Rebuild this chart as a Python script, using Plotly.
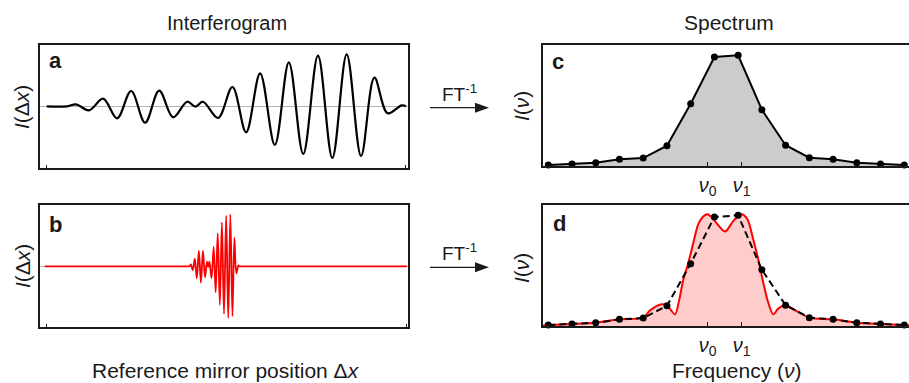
import plotly.graph_objects as go

W, H = 909, 383
INK = "#1a1a1a"
FONT = "Liberation Sans, Arial, sans-serif"

# Interferogram: peaks and troughs along the normalised mirror position
IFG_X = [0.000, 0.056, 0.082, 0.118, 0.157, 0.196, 0.235, 0.274, 0.313, 0.352,
         0.391, 0.414, 0.435, 0.477, 0.517, 0.555, 0.594, 0.635, 0.674, 0.714,
         0.755, 0.795, 0.835, 0.875, 0.912, 0.949, 0.988, 1.000]
IFG_Y = [0.000, 0.000, 0.038, -0.077, 0.146, -0.231, 0.294, -0.315, 0.300, -0.212,
         0.088, -0.008, 0.088, -0.225, 0.371, -0.500, 0.635, -0.744, 0.846, -0.917,
         0.973, -0.994, 1.000, -0.956, 0.550, -0.135, 0.019, 0.000]

# Flat baseline extent of the broadband interferogram (same units as IFG_X)
B_BASELINE_X = [-2.70, 1.05, 4.20]

# Sampled spectrum (frequency bins 0..15)
NU = list(range(16))
SPEC = [0.009, 0.018, 0.030, 0.060, 0.072, 0.183, 0.563, 0.985, 1.000, 0.508,
        0.188, 0.075, 0.060, 0.030, 0.018, 0.009]

# High-resolution spectrum
FIT_NU = [-0.23, 0.0, 1.0, 2.0, 3.0, 4.0, 4.28, 4.56, 4.78, 5.0, 5.34, 5.52, 5.69,
          5.90, 6.11, 6.32, 6.53, 6.72, 6.98, 7.45, 7.80, 8.15, 8.39, 8.64, 8.85,
          9.06, 9.27, 9.48, 9.69, 9.99, 10.5, 11.0, 12.0, 13.0, 14.0, 15.0, 15.2]
FIT_I = [0.005, 0.009, 0.018, 0.030, 0.060, 0.075, 0.140, 0.180, 0.196, 0.187, 0.105,
         0.240, 0.420, 0.570, 0.750, 0.920, 0.990, 1.009, 0.958, 0.853, 0.950, 1.009,
         0.964, 0.780, 0.600, 0.390, 0.210, 0.105, 0.157, 0.187, 0.130, 0.075, 0.060,
         0.030, 0.018, 0.009, 0.006]

NU_TICKS = [6.72, 8.15]
NU_LABELS = ["<i>ν</i><sub>0</sub>", "<i>ν</i><sub>1</sub>"]


def fx(x):
    return x / W


def fy(y):
    return 1 - y / H


fig = go.Figure()

fig.add_trace(go.Scatter(x=IFG_X, y=IFG_Y, mode="lines", xaxis="x", yaxis="y",
                         line=dict(color="black", width=2.2, shape="spline", smoothing=1.0)))
fig.add_trace(go.Scatter(x=[B_BASELINE_X[0]] + IFG_X + B_BASELINE_X[1:],
                         y=[0] + IFG_Y + [0, 0], mode="lines", xaxis="x2", yaxis="y2",
                         line=dict(color="red", width=1.8, shape="spline", smoothing=1.0)))
fig.add_trace(go.Scatter(x=NU, y=SPEC, mode="lines+markers", xaxis="x3", yaxis="y3",
                         fill="tozeroy", fillcolor="rgb(204,204,204)", cliponaxis=False,
                         line=dict(color="black", width=2),
                         marker=dict(color="black", size=7)))
fig.add_trace(go.Scatter(x=FIT_NU, y=FIT_I, mode="lines", xaxis="x4", yaxis="y4",
                         fill="tozeroy", fillcolor="rgb(255,204,204)",
                         line=dict(color="red", width=2, shape="spline", smoothing=0.8)))
fig.add_trace(go.Scatter(x=NU, y=SPEC, mode="lines+markers", xaxis="x4", yaxis="y4",
                         cliponaxis=False,
                         line=dict(color="black", width=2, dash="7px,4px"),
                         marker=dict(color="black", size=7)))

frame = dict(showline=True, linewidth=2, linecolor=INK, mirror=True, showgrid=False,
             zeroline=False, showticklabels=False, ticks="")
xbase = dict(frame, ticks="inside", ticklen=3, tickwidth=1, tickcolor=INK)
nu_axis = dict(xbase, range=[-0.223, 15.2], tickvals=NU_TICKS, ticktext=NU_LABELS,
               showticklabels=True, ticklen=4,
               tickfont=dict(size=20, family=FONT, color=INK))

left_x = [fx(40), fx(408)]
right_x = [fx(543), 1.0]

fig.update_layout(
    width=W, height=H, margin=dict(l=0, r=0, t=0, b=0),
    paper_bgcolor="white", plot_bgcolor="white", showlegend=False,
    font=dict(family=FONT, color=INK),
    xaxis=dict(xbase, domain=left_x, anchor="y", range=[-0.0186, 1.0056], tickvals=[0, 1]),
    yaxis=dict(frame, domain=[fy(168), fy(45)], anchor="x", range=[-1.187, 1.179],
               zeroline=True, zerolinecolor="#b4b4b4", zerolinewidth=1),
    xaxis2=dict(xbase, domain=left_x, anchor="y2", range=[-2.792, 4.220],
                tickvals=[-2.665, 4.185]),
    yaxis2=dict(frame, domain=[fy(327), fy(205)], anchor="x2", range=[-1.167, 1.179],
                zeroline=True, zerolinecolor="#b4b4b4", zerolinewidth=1),
    xaxis3=dict(nu_axis, domain=right_x, anchor="y3"),
    yaxis3=dict(frame, domain=[fy(166), fy(45)], anchor="x3", range=[0, 1.093], mirror=False),
    xaxis4=dict(nu_axis, domain=right_x, anchor="y4"),
    yaxis4=dict(frame, domain=[fy(326), fy(205)], anchor="x4", range=[0, 1.093], mirror=False),
)

annotations = []


def text(x, y, s, size, **kw):
    annotations.append(dict(x=fx(x), y=fy(y), xref="paper", yref="paper", text=s,
                            showarrow=False, font=dict(size=size, family=FONT, color=INK),
                            xanchor=kw.pop("xanchor", "center"),
                            yanchor=kw.pop("yanchor", "middle"), **kw))


text(227, 23, "Interferogram", 20)
text(729, 23, "Spectrum", 21)
text(225.5, 370, "Reference mirror position Δ<i>x</i>", 21)
text(737, 370, "Frequency (<i>ν</i>)", 21)

text(22, 107, "<i>I</i>(Δ<i>x</i>)", 21, textangle=-90)
text(22, 266, "<i>I</i>(Δ<i>x</i>)", 21, textangle=-90)
text(521, 106, "<i>I</i>(<i>ν</i>)", 21, textangle=-90)
text(521, 268, "<i>I</i>(<i>ν</i>)", 21, textangle=-90)

text(55, 60, "<b>a</b>", 22)
text(55, 224, "<b>b</b>", 22)
text(558, 61, "<b>c</b>", 22)
text(559, 223, "<b>d</b>", 22)

text(459, 93, "FT<sup>-1</sup>", 19)
text(459, 252, "FT<sup>-1</sup>", 19)

fig.update_layout(annotations=annotations)

# FT arrows
shapes = []
for ay in (107.7, 267.3):
    shapes.append(dict(type="line", xref="paper", yref="paper",
                       x0=fx(430), x1=fx(477), y0=fy(ay), y1=fy(ay),
                       line=dict(color=INK, width=1.3)))
    shapes.append(dict(type="path", xref="paper", yref="paper",
                       path=f"M {fx(475)},{fy(ay - 5)} L {fx(489)},{fy(ay)} L {fx(475)},{fy(ay + 5)} Z",
                       fillcolor=INK, line=dict(color=INK, width=0)))
fig.update_layout(shapes=shapes)

fig.write_html("out.html")
